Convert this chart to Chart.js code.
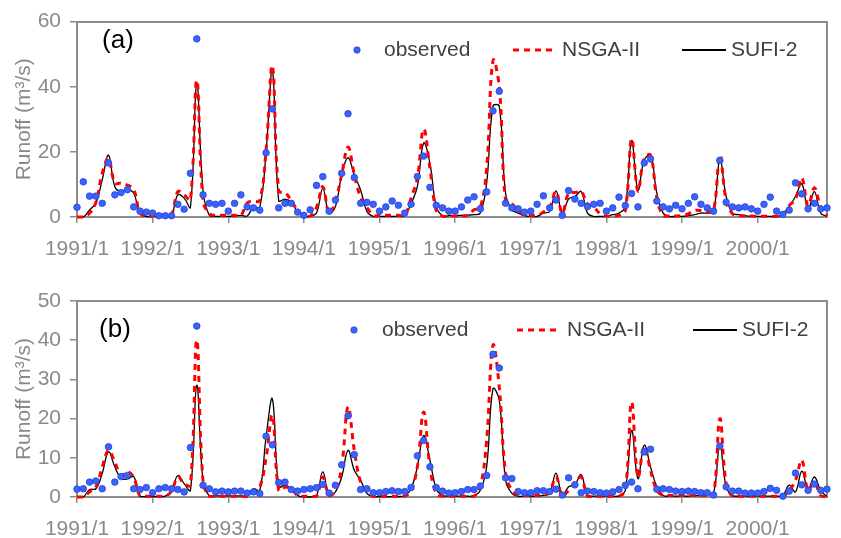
<!DOCTYPE html>
<html>
<head>
<meta charset="utf-8">
<title>Monthly runoff: observed vs NSGA-II vs SUFI-2</title>
<script src="https://cdn.jsdelivr.net/npm/chart.js@4.4.1/dist/chart.umd.min.js"></script>
<style>
  html, body { margin: 0; padding: 0; background: #fff; }
  canvas { display: block; }
</style>
</head>
<body>
<canvas id="chartA" width="841" height="269"></canvas>
<canvas id="chartB" width="841" height="269"></canvas>
<script>
// ============================================
// Runoff calibration — two panels, 1991/1 .. 2000/12
// ============================================

var FONT = "'Liberation Sans', Arial, sans-serif";
var AXIS_GREY = '#8c8c8c';
var TEXT_GREY = '#8a8a8a';

// Month labels (tick labels shown only at January)
var years = [1991, 1992, 1993, 1994, 1995, 1996, 1997, 1998, 1999, 2000];
var months = [];
years.forEach(function(y) {
  for (var m = 1; m <= 12; m++) months.push(y + '/' + m);
});

// Panel (a) values, m3/s
var obsA = [3.0, 10.8, 6.4, 6.4, 4.2, 16.6, 6.8, 7.5, 8.4, 3.1, 1.8, 1.5,
  1.2, 0.4, 0.4, 0.4, 3.9, 2.4, 13.4, 54.7, 6.8, 4.2, 3.9, 4.2,
  1.8, 4.2, 6.8, 3.1, 2.8, 2.1, 19.7, 33.2, 2.8, 4.2, 4.2, 1.5,
  0.5, 2.2, 9.7, 12.4, 1.8, 5.2, 13.4, 31.7, 12.1, 4.2, 4.5, 3.9,
  1.8, 3.1, 4.9, 3.6, 1.2, 3.9, 12.4, 18.7, 9.1, 3.6, 2.8, 1.8,
  1.8, 3.1, 5.2, 6.2, 2.5, 7.7, 32.6, 38.6, 4.2, 2.8, 2.5, 1.5,
  1.8, 3.9, 6.5, 2.8, 5.2, 0.5, 8.1, 5.5, 4.2, 3.2, 3.9, 4.2,
  1.8, 2.8, 6.1, 3.5, 7.2, 3.1, 16.6, 17.8, 4.9, 3.1, 2.5, 3.6,
  2.5, 4.2, 6.2, 3.9, 2.8, 1.8, 17.4, 4.5, 3.1, 2.8, 3.1, 2.5,
  1.8, 3.9, 6.1, 1.8, 0.8, 2.1, 10.5, 7.1, 2.5, 4.2, 2.5, 2.8];
var nsgaA = [0, 0, 1.2, 4.5, 13.4, 18, 10.4, 10.4, 9.8, 8.5, 1.2, 0.3,
  0.3, 0.3, 0.3, 0.7, 7.8, 6.8, 5.3, 42, 5, 1, 0.5, 0.5,
  0.5, 0.5, 0.5, 4.3, 4.8, 5, 20.5, 46.4, 8, 7.5, 5, 2,
  0.3, 0.3, 3, 9.3, 1, 5, 13, 21.5, 13, 6, 3, 0.5,
  0.5, 0.5, 0.5, 0.5, 0.5, 5.8, 12, 27, 15, 2, 0.3, 0.3,
  0.3, 0.3, 0.5, 2.2, 3, 15, 48, 40, 5, 4, 2, 0.5,
  0.5, 0.5, 1.5, 3, 7.8, 1.2, 7.3, 7.5, 7.8, 4, 3, 1,
  0.3, 0.3, 0.5, 2, 24, 8, 18, 19, 6, 0.5, 0.3, 0.3,
  0.5, 1, 2, 2, 1.5, 2, 19, 5, 1, 0.5, 0.3, 0.3,
  0.2, 0.2, 0.2, 0.2, 0.5, 3.5, 5.5, 12, 3.5, 9, 3, 0.3];
var sufiA = [0, 0, 2.2, 4.3, 11.4, 19, 9.3, 7.8, 8.5, 7.3, 1.2, 0.2,
  0.2, 0.2, 0.4, 0.7, 6.8, 5.8, 3, 41, 8, 0.5, 0.2, 0.2,
  0.2, 0.3, 0.5, 0.3, 3, 3, 20, 45, 5, 5.5, 4.5, 1.5,
  0.2, 0.2, 1.2, 8.8, 1.2, 3.2, 13, 18.2, 12.9, 8.3, 1.7, 0.2,
  0.2, 0.2, 0.2, 0.2, 0.5, 4, 9.3, 22.7, 16.4, 3.2, 0.4, 0.4,
  0.4, 0.5, 0.6, 0.7, 1.2, 10.4, 34, 34, 7.3, 2.2, 1.2, 0.4,
  0.2, 0.2, 1.2, 1.7, 8, 1.2, 5.5, 6.3, 7.8, 1.2, 0.2, 0.2,
  0.2, 0.7, 1.2, 3.2, 23.5, 8.3, 17.5, 19, 7.3, 1.2, 0.2, 0.2,
  0.2, 0.4, 0.7, 1.2, 1.2, 1.7, 17.7, 6.3, 1.2, 0.7, 0.4, 0.2,
  0.2, 0.2, 0.2, 0.2, 0.7, 3.2, 6.3, 10.2, 2.2, 7.8, 1.2, 0.2];

// Panel (b) values, m3/s
var obsB = [2.0, 2.1, 3.8, 4.1, 2.1, 12.8, 3.8, 5.2, 5.5, 2.1, 1.9, 2.4,
  1.1, 2.1, 2.4, 2.1, 1.9, 1.3, 12.6, 43.6, 3.0, 2.1, 1.3, 1.5,
  1.3, 1.5, 1.5, 1.0, 1.3, 0.9, 15.5, 13.3, 3.7, 3.8, 1.9, 1.5,
  1.9, 2.1, 2.4, 3.2, 1.0, 3.0, 8.2, 20.7, 10.8, 1.9, 2.1, 1.1,
  1.1, 1.4, 1.6, 1.4, 1.4, 2.4, 10.5, 14.4, 7.7, 2.4, 1.5, 1.0,
  1.1, 1.4, 1.9, 1.9, 2.8, 5.5, 36.4, 32.9, 4.9, 4.7, 1.4, 1.1,
  1.1, 1.6, 1.6, 1.4, 2.0, 0.5, 4.9, 3.1, 1.1, 1.5, 1.4, 1.1,
  1.0, 1.3, 1.9, 3.0, 3.8, 2.1, 11.5, 12.2, 2.0, 2.1, 1.9, 1.5,
  1.4, 1.5, 1.4, 1.1, 1.1, 0.5, 13.0, 2.6, 1.5, 1.5, 1.0, 1.0,
  1.0, 1.4, 2.2, 1.7, 0.2, 1.5, 6.1, 3.1, 1.7, 3.3, 1.7, 2.0];
var nsgaB = [0, 0, 1.3, 2.5, 7.6, 11.9, 8.9, 5.5, 6.5, 5, 0.2, 0.2,
  0.2, 0.2, 0.2, 1.5, 5.1, 3.4, 3, 40, 4, 0.2, 0.2, 0.2,
  0.2, 0.2, 0.2, 0.2, 1.3, 2.5, 10, 20.8, 1.7, 2.5, 2.1, 0.4,
  0.2, 0.2, 0.2, 5.1, 0.4, 1.7, 7.7, 23, 11.9, 3.8, 1.3, 0.2,
  0.2, 0.2, 0.2, 0.2, 0.2, 1.7, 7.7, 21.7, 7.7, 0.9, 0.2, 0.2,
  0.2, 0.2, 0.2, 0.2, 2.6, 14.5, 38.7, 28, 6, 1.7, 0.4, 0.4,
  0.4, 0.4, 0.4, 1.3, 5.1, 0.4, 1.7, 3.8, 5.1, 0.2, 0.2, 0.2,
  0.2, 0.2, 0.2, 1.7, 24.2, 5.1, 12.8, 6.8, 1.7, 0.4, 0.4, 0.4,
  0.4, 0.4, 0.4, 0.4, 0.4, 0.4, 20, 3.4, 0.2, 0.2, 0.2, 0.2,
  0.2, 0.2, 0.2, 0.2, 0.2, 1.7, 4.3, 9.4, 1.7, 3.8, 0.4, 0];
var sufiB = [0, 0, 1.9, 2.1, 6, 11.5, 7.7, 4.7, 4.6, 5.2, 0.2, 0.1,
  0.1, 0.1, 0.2, 1.5, 5.5, 3.4, 1.7, 28.5, 4, 0.3, 0.3, 0.3,
  0.3, 0.3, 0.3, 0.3, 2.1, 1.7, 15.3, 25, 2.6, 3, 2.1, 0.4,
  0, 0, 0.4, 6.4, 0.4, 1.3, 5.1, 11.9, 6.8, 4.3, 0.9, 0.1,
  0.1, 0.1, 0.1, 0.1, 0.4, 2.1, 7.7, 15.7, 9.4, 2.1, 0.4, 0.2,
  0.2, 0.2, 0.2, 0.3, 1.7, 7.7, 27.6, 24.7, 4.3, 0.9, 0.2, 0.2,
  0.2, 0.2, 0.4, 0.9, 6.1, 0.4, 2.6, 3.2, 5.7, 0.2, 0.2, 0.2,
  0.2, 0.2, 0.3, 1.7, 17, 4.7, 13.2, 7.7, 2.6, 0.4, 0.2, 0.2,
  0.2, 0.2, 0.3, 0.4, 0.6, 0.9, 13.2, 2.6, 0.4, 0.2, 0.2, 0.2,
  0.2, 0.2, 0.2, 0.2, 0.4, 3, 1.3, 6.6, 2.1, 5.1, 1.7, 0.1];

// Panel tag "(a)"/"(b)" and in-plot legend, drawn after the chart
var panelLegend = {
  id: 'panelLegend',
  afterDraw: function(chart, args, o) {
    var ctx = chart.ctx;
    ctx.save();
    ctx.fillStyle = '#000';
    ctx.font = '26px ' + FONT;
    ctx.textAlign = 'center';
    ctx.textBaseline = 'middle';
    ctx.fillText(o.tag, o.tagX, o.tagY);

    ctx.font = '21px ' + FONT;
    ctx.textAlign = 'left';
    chart.data.datasets.forEach(function(ds, k) {
      var x = o.itemX[k], y = o.legendY;
      if (ds.showLine === false) {
        ctx.beginPath();
        ctx.arc(x + 22, y, 3.2, 0, Math.PI * 2);
        ctx.fillStyle = ds.pointBackgroundColor;
        ctx.fill();
        ctx.lineWidth = ds.pointBorderWidth;
        ctx.strokeStyle = ds.pointBorderColor;
        ctx.stroke();
      } else {
        ctx.beginPath();
        ctx.setLineDash(ds.borderDash || []);
        // legend sample of the solid line is drawn a bit heavier, as in the original
        ctx.lineWidth = ds.borderDash ? ds.borderWidth : ds.borderWidth + 0.6;
        ctx.strokeStyle = ds.borderColor;
        ctx.moveTo(x, y);
        ctx.lineTo(x + 44, y);
        ctx.stroke();
        ctx.setLineDash([]);
      }
      ctx.fillStyle = '#404040';
      ctx.fillText(ds.label, o.textX[k], y);
    });
    ctx.restore();
  }
};

function buildPanel(canvasId, obs, nsga, sufi, yMax, yStep, panel) {
  var ctx = document.getElementById(canvasId).getContext('2d');
  return new Chart(ctx, {
    type: 'line',
    data: {
      labels: months,
      datasets: [
        { label: 'observed', data: obs, showLine: false, pointRadius: 3.3, pointHoverRadius: 3.3,
          pointBackgroundColor: '#3a62ff', pointBorderColor: '#2745d0', pointBorderWidth: 0.8, clip: false },
        { label: 'NSGA-II', data: nsga, borderColor: '#ff0000', borderWidth: 3, borderDash: [6, 5],
          pointRadius: 0, tension: 0.4, fill: false, clip: false },
        { label: 'SUFI-2', data: sufi, borderColor: '#000000', borderWidth: 1.3,
          pointRadius: 0, tension: 0.4, fill: false, clip: false }
      ]
    },
    options: {
      responsive: false, animation: false, devicePixelRatio: 1,
      layout: { padding: { top: panel.top, right: 3, left: 0, bottom: 0 } },
      plugins: { legend: { display: false }, tooltip: { enabled: false }, panelLegend: panel },
      scales: {
        x: {
          type: 'category',
          grid: {
            display: true, drawOnChartArea: false, drawTicks: true, tickLength: 6, lineWidth: 1.5,
            color: AXIS_GREY,
            tickColor: function(c) { return c.index % 12 === 0 ? AXIS_GREY : 'rgba(0,0,0,0)'; }
          },
          border: { display: true, color: AXIS_GREY, width: 2 },
          ticks: {
            autoSkip: false, maxRotation: 0, minRotation: 0, padding: 14,
            color: TEXT_GREY, font: { family: FONT, size: 21 },
            callback: function(v, i) { return i % 12 === 0 ? this.getLabelForValue(v) : ''; }
          },
          afterFit: function(s) { s.height = panel.axisHeight; }
        },
        y: {
          min: 0, max: yMax,
          ticks: { stepSize: yStep, padding: 9, color: TEXT_GREY, font: { family: FONT, size: 21 } },
          grid: { drawOnChartArea: false, drawTicks: true, tickLength: 7, lineWidth: 1.5, color: AXIS_GREY },
          border: { display: true, color: AXIS_GREY, width: 2 },
          title: { display: true, text: 'Runoff (m³/s)', color: TEXT_GREY,
                   font: { family: FONT, size: 21 }, padding: { top: 12, bottom: 0 } },
          afterFit: function(s) { s.width = 77; }
        },
        xTop: {
          type: 'category', position: 'top',
          grid: { display: false, drawTicks: false },
          ticks: { display: false },
          border: { display: true, color: AXIS_GREY, width: 2 },
          afterFit: function(s) { s.height = 0; }
        },
        yRight: {
          position: 'right', min: 0, max: yMax,
          grid: { display: false, drawTicks: false },
          ticks: { display: false },
          border: { display: true, color: AXIS_GREY, width: 2 },
          afterFit: function(s) { s.width = 0; }
        }
      }
    },
    plugins: [panelLegend]
  });
}

Chart.defaults.font.family = FONT;

buildPanel('chartA', obsA, nsgaA, sufiA, 60, 20, {
  top: 20, axisHeight: 52,
  tag: '(a)', tagX: 118, tagY: 41, legendY: 50,
  itemX: [335, 513, 682], textX: [384, 562, 731]
});

buildPanel('chartB', obsB, nsgaB, sufiB, 50, 10, {
  top: 32, axisHeight: 41,
  tag: '(b)', tagX: 115, tagY: 61, legendY: 61,
  itemX: [332, 517, 693], textX: [382, 567, 742]
});
</script>
</body>
</html>
